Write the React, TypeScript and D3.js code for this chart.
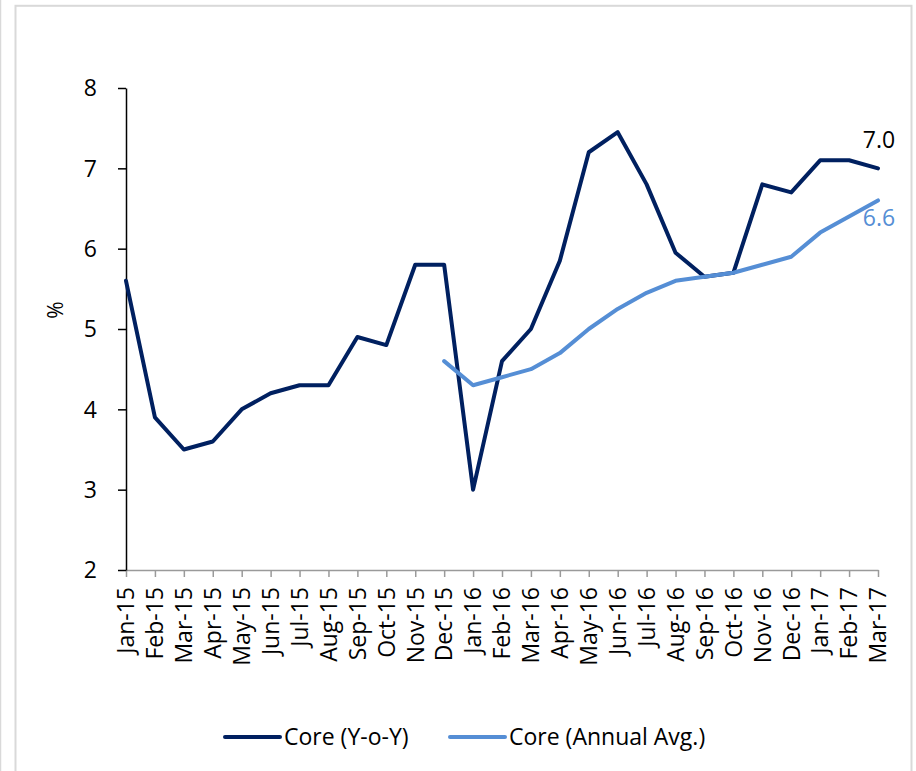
import * as d3 from 'd3';
import React, { useEffect, useRef } from 'react';

const months = [
  'Jan-15', 'Feb-15', 'Mar-15', 'Apr-15', 'May-15', 'Jun-15', 'Jul-15', 'Aug-15', 'Sep-15',
  'Oct-15', 'Nov-15', 'Dec-15', 'Jan-16', 'Feb-16', 'Mar-16', 'Apr-16', 'May-16', 'Jun-16',
  'Jul-16', 'Aug-16', 'Sep-16', 'Oct-16', 'Nov-16', 'Dec-16', 'Jan-17', 'Feb-17', 'Mar-17'
];

// Core (Y-o-Y), %
const coreYoY = [
  5.6, 3.9, 3.5, 3.6, 4.0, 4.2, 4.3, 4.3, 4.9, 4.8, 5.8, 5.8, 3.0, 4.6, 5.0, 5.85,
  7.2, 7.45, 6.8, 5.95, 5.65, 5.7, 6.8, 6.7, 7.1, 7.1, 7.0
];

// Core (Annual Avg.), %  (starts Dec-15)
const coreAvg: (number | null)[] = [
  null, null, null, null, null, null, null, null, null, null, null,
  4.6, 4.3, 4.4, 4.5, 4.7, 5.0, 5.25, 5.45, 5.6, 5.65, 5.7, 5.8, 5.9, 6.2, 6.4, 6.6
];

const yTicks = [2, 3, 4, 5, 6, 7, 8];

const seriesNames = ['Core (Y-o-Y)', 'Core (Annual Avg.)'];
const seriesColors = ['#002060', '#558ed5'];

const W = 916;
const H = 771;
const FONT = '"Open Sans", sans-serif';

const App: React.FC = () => {
  const svgRef = useRef<SVGSVGElement>(null);

  useEffect(() => {
    if (!svgRef.current) return;
    const svg = d3.select(svgRef.current);
    svg.selectAll('*').remove();

    const margin = { top: 88, left: 126, right: 38, bottom: 201 };

    const x = d3.scalePoint<string>()
      .domain(months)
      .range([margin.left, W - margin.right]);

    const y = d3.scaleLinear()
      .domain([2, 8])
      .range([H - margin.bottom, margin.top]);

    // outer frame
    svg.append('line')
      .attr('x1', 0.5).attr('x2', 0.5).attr('y1', 0).attr('y2', H)
      .attr('stroke', '#d9d9d9').attr('stroke-width', 1.5);
    svg.append('rect')
      .attr('x', 15.5).attr('y', 5.8)
      .attr('width', 896).attr('height', H + 20)
      .attr('fill', 'none')
      .attr('stroke', '#d9d9d9').attr('stroke-width', 2);

    // x axis
    const xAxis = svg.append('g')
      .attr('transform', `translate(0, ${y(2)})`)
      .call(d3.axisBottom(x).tickSize(7).tickSizeOuter(0).tickFormat(() => ''));
    xAxis.select('.domain').attr('stroke', '#9a9a9a').attr('stroke-width', 1.5);
    xAxis.selectAll('.tick line').attr('stroke', '#9a9a9a').attr('stroke-width', 1.5);

    svg.append('g')
      .selectAll('text')
      .data(months)
      .join('text')
      .attr('transform', d => `translate(${x(d)}, ${y(2) + 17}) rotate(-90)`)
      .attr('text-anchor', 'end')
      .attr('dy', '0.36em')
      .style('font-family', FONT)
      .style('font-size', '23px')
      .attr('fill', '#000')
      .text(d => d);

    // y axis
    const yAxis = svg.append('g')
      .attr('transform', `translate(${margin.left}, 0)`)
      .call(d3.axisLeft(y).tickValues(yTicks).tickSize(8).tickSizeOuter(0).tickFormat(() => ''));
    yAxis.select('.domain').attr('stroke', '#000').attr('stroke-width', 1.5);
    yAxis.selectAll('.tick line').attr('stroke', '#000').attr('stroke-width', 1.5);

    svg.append('g')
      .selectAll('text')
      .data(yTicks)
      .join('text')
      .attr('x', margin.left - 29)
      .attr('y', d => y(d))
      .attr('dy', '0.36em')
      .attr('text-anchor', 'end')
      .style('font-family', FONT)
      .style('font-size', '23px')
      .attr('fill', '#000')
      .text(d => d);

    svg.append('text')
      .attr('transform', `translate(55, ${y(5) - 19}) rotate(-90)`)
      .attr('text-anchor', 'middle')
      .attr('dy', '0.36em')
      .style('font-family', FONT)
      .style('font-size', '21px')
      .attr('fill', '#000')
      .text('%');

    // lines
    const line = d3.line<number | null>()
      .defined(d => d != null)
      .x((_, i) => x(months[i]) as number)
      .y(d => y(d as number));

    [coreYoY, coreAvg].forEach((vals, i) => {
      svg.append('path')
        .datum(vals as (number | null)[])
        .attr('d', line)
        .attr('fill', 'none')
        .attr('stroke', seriesColors[i])
        .attr('stroke-width', 4)
        .attr('stroke-linejoin', 'round')
        .attr('stroke-linecap', 'round');
    });

    // end labels
    const last = months.length - 1;
    svg.append('text')
      .attr('x', (x(months[last]) as number) + 1)
      .attr('y', y(coreYoY[last]) - 20)
      .attr('text-anchor', 'middle')
      .style('font-family', FONT)
      .style('font-size', '23px')
      .attr('fill', '#000')
      .text(coreYoY[last].toFixed(1));
    svg.append('text')
      .attr('x', (x(months[last]) as number) + 1)
      .attr('y', y(coreAvg[last] as number) + 26)
      .attr('text-anchor', 'middle')
      .style('font-family', FONT)
      .style('font-size', '23px')
      .attr('fill', seriesColors[1])
      .text((coreAvg[last] as number).toFixed(1));

    // legend
    const legendY = 737;
    const legendX = [225, 450];
    seriesNames.forEach((name, i) => {
      const g = svg.append('g').attr('transform', `translate(${legendX[i]}, ${legendY})`);
      g.append('line')
        .attr('x1', 0).attr('x2', 55)
        .attr('stroke', seriesColors[i])
        .attr('stroke-width', 4)
        .attr('stroke-linecap', 'round');
      g.append('text')
        .attr('x', 59)
        .attr('dy', '0.36em')
        .style('font-family', FONT)
        .style('font-size', '23px')
        .attr('fill', '#000')
        .text(name);
    });
  }, []);

  return (
    <div style={{ position: 'absolute', left: 0, top: 0, background: '#fff' }}>
      <svg ref={svgRef} width={W} height={H} style={{ display: 'block' }} />
    </div>
  );
};

export default App;
